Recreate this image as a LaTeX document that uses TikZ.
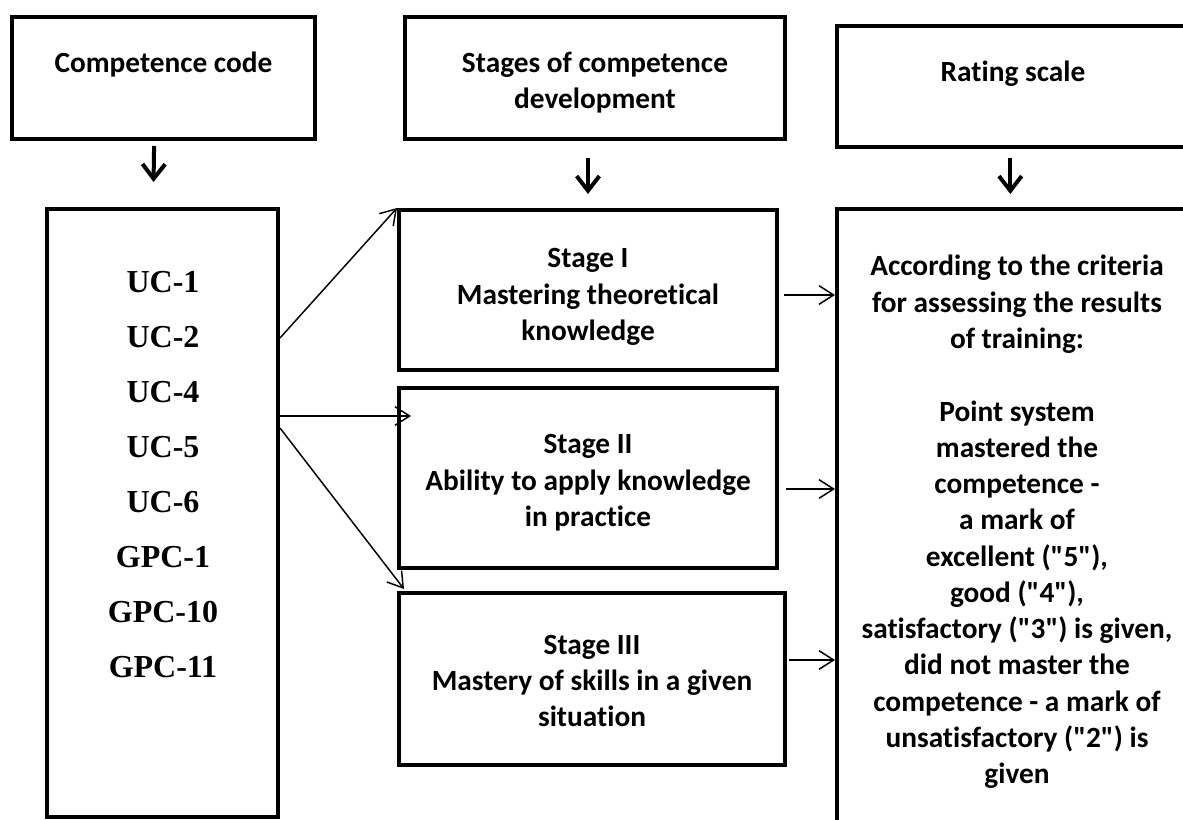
\documentclass[tikz,border=0pt]{standalone}
\usepackage{fontspec}
\setmainfont{Carlito}[Ligatures={TeX,NoCommon}]
\newfontfamily\codefont{Liberation Serif}
\usetikzlibrary{positioning,calc,arrows.meta}

% an extra line of given height at the foot of a box text
\newcommand{\footpad}[1]{\\[#1]\strut}

\tikzset{
  box/.style={draw, line width=3pt, inner sep=0pt, align=center, font=\bfseries\fontsize{22}{27.2}\selectfont},
  down/.style={-{Straight Barb[length=11pt,width=17pt]}, line width=3pt},
  link/.style={-{Straight Barb[length=11pt,width=14pt]}, line width=1.1pt}
}

\begin{document}
\begin{tikzpicture}[x=0.75pt, y=-0.75pt]
\useasboundingbox (0,0) rectangle (1183,820);
\clip (0,0) rectangle (1183,820);

% header row
\node[box, minimum width=227.25pt, minimum height=91.5pt] (code) at (163.5,78) {Competence code\footpad{-12pt}};
\node[box, minimum width=285pt, minimum height=91.5pt] (stages) at (595,78) {Stages of competence\\development\footpad{-39.2pt}};
\node[box, minimum width=264pt, minimum height=90.75pt] (scale) at (1013,86.5) {Rating scale\footpad{-12pt}};

% competence codes
\node[box, minimum width=173.25pt, minimum height=456pt] (codes) at (162.5,513) {};
\node[font=\codefont\bfseries\fontsize{24}{41.25}\selectfont, align=center] (codelist) at (163,474.5)
  {UC-1\\UC-2\\UC-4\\UC-5\\UC-6\\GPC-1\\GPC-10\\GPC-11};

% stages
\node[box, minimum width=283.5pt, minimum height=120pt] (s1) at (588,290) {Stage I\\Mastering theoretical\\knowledge\footpad{-42.2pt}};
\node[box, minimum width=283.5pt, minimum height=135pt, below=10.5pt of s1] (s2) {Stage II\\Ability to apply knowledge\\in practice\footpad{-39.2pt}};
\node[box, minimum width=289.5pt, minimum height=129pt, below=15.75pt of s2, xshift=3pt] (s3) {Stage III\\Mastery of skills in a given\\situation\footpad{-38.2pt}};

% rating
\node[box, minimum width=270pt, minimum height=469.5pt] (crit) at (1017,522) {According to the criteria\\for assessing the results\\of training:\\[27.2pt]Point system\\mastered the\\competence -\\a mark of\\excellent (\textquotedbl5\textquotedbl),\\good (\textquotedbl4\textquotedbl),\\satisfactory (\textquotedbl3\textquotedbl) is given,\\did not master the\\competence - a mark of\\unsatisfactory (\textquotedbl2\textquotedbl) is\\given};

\draw[down, shorten <=3.75pt, shorten >=18.75pt] ([xshift=-7pt]code.south) -- ([xshift=-7pt]codes.north);
\draw[down, shorten <=12.75pt, shorten >=10.5pt] (stages.south -| s1.north) -- (s1.north);
\draw[down, shorten <=6.75pt, shorten >=9.75pt] ([xshift=-2pt]scale.south) -- ([xshift=-2pt]scale.south |- crit.north);

\coordinate (uc1) at ($(codes.north east)+(0,131)$);
\coordinate (uc2) at ($(codes.north east)+(0,209)$);
\coordinate (uc3) at ($(codes.north east)+(0,221)$);
\draw[link] (uc1) -- (s1.north west);
\draw[link] (uc2) -- ($(uc2 -| s2.west)+(14,0)$);
\draw[link] (uc3) -- ($(s3.north west)+(7,-2)$);

\draw[link] ($(s1.east)+(5,5)$) -- ($(crit.west |- s1.east)+(0,5)$);
\draw[link] ($(s2.east)+(7,11)$) -- ($(crit.west |- s2.east)+(0,11)$);
\draw[link] ($(s3.east)+(2,-19)$) -- ($(crit.west |- s3.east)+(0,-19)$);
\end{tikzpicture}
\end{document}
